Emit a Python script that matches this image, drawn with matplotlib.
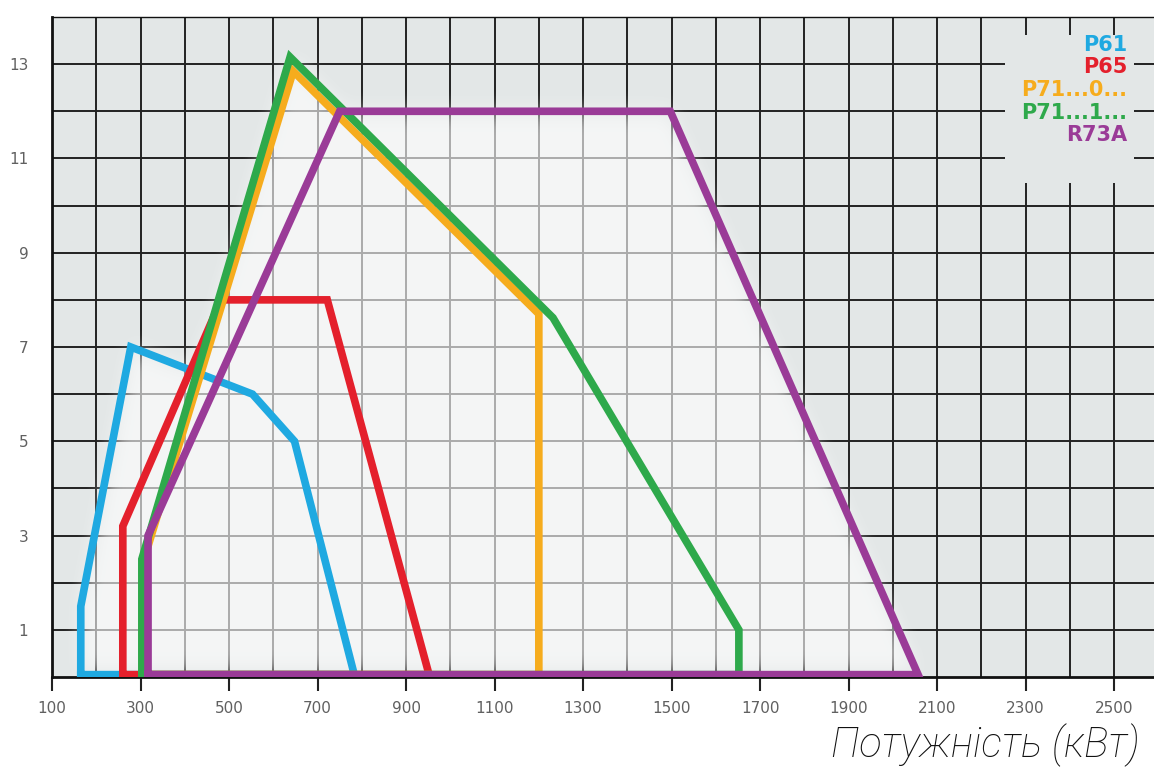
import numpy as np
import matplotlib.pyplot as plt
from matplotlib.path import Path
from matplotlib.patches import Rectangle

# Series outlines (power kW vs. value)
series_names = ['P61', 'P65', 'P71...0...', 'P71...1...', 'R73A']
series_colors = ['#1fa9e1', '#e4202c', '#f6ac1d', '#2ea94b', '#9a3b97']

p61_x = [165, 165, 278, 553, 648, 783, 165]
p61_y = [0.05, 1.5, 7.0, 6.0, 5.0, 0.05, 0.05]

p65_x = [260, 260, 482, 722, 952, 260]
p65_y = [0.05, 3.2, 8.0, 8.0, 0.05, 0.05]

p71_0_x = [308, 308, 645, 1200, 1200, 308]
p71_0_y = [0.05, 2.5, 12.85, 7.7, 0.05, 0.05]

p71_1_x = [303, 303, 638, 1232, 1652, 1652, 303]
p71_1_y = [0.05, 2.5, 13.15, 7.62, 1.0, 0.05, 0.05]

r73a_x = [317, 317, 750, 1497, 2057, 317]
r73a_y = [0.05, 3.0, 12.0, 12.0, 0.05, 0.05]

series_x = [p61_x, p65_x, p71_0_x, p71_1_x, r73a_x]
series_y = [p61_y, p65_y, p71_0_y, p71_1_y, r73a_y]

x_major = list(range(100, 2600, 200))
x_minor = list(range(200, 2600, 200))
y_major = [1, 3, 5, 7, 9, 11, 13]
y_minor = [2, 4, 6, 8, 10, 12, 14]

xlabel = 'Потужність (кВт)'

XMIN, XMAX, YMIN, YMAX = 100, 2590, 0, 14
BG = '#e3e7e7'

fig = plt.figure(figsize=(11.54, 7.74), dpi=100)
ax = fig.add_axes([52 / 1154, 97 / 774, 1102 / 1154, 660 / 774])
ax.set_facecolor(BG)
ax.set_xlim(XMIN, XMAX)
ax.set_ylim(YMIN, YMAX)

ax.set_xticks(x_major)
ax.set_xticks(x_minor, minor=True)
ax.set_yticks(y_major)
ax.set_yticks(y_minor, minor=True)
ax.set_axisbelow(True)
ax.grid(which='both', color='#222222', linewidth=1.4)

ax.tick_params(axis='x', which='major', length=10, width=1.5, color='#222222',
               direction='out', pad=7, labelsize=11, labelcolor='#606060')
ax.tick_params(axis='x', which='minor', length=0)
ax.tick_params(axis='y', which='both', length=0, pad=17, labelsize=11,
               labelcolor='#606060')

ax.spines['right'].set_visible(False)
ax.spines['top'].set_linewidth(1.0)
ax.spines['left'].set_linewidth(2.0)
ax.spines['bottom'].set_linewidth(2.0)
for s in ['top', 'left', 'bottom']:
    ax.spines[s].set_color('#111111')

# white glow over the region covered by the outlines
nx, ny = 600, 300
gx = np.linspace(XMIN, XMAX, nx)
gy = np.linspace(YMIN, YMAX, ny)
GX, GY = np.meshgrid(gx, gy)
pts = np.column_stack([GX.ravel(), GY.ravel()])
mask = np.zeros(GX.size, dtype=float)
for xs, ys in zip(series_x, series_y):
    inside = Path(np.column_stack([xs, ys])).contains_points(pts)
    mask = np.maximum(mask, inside.astype(float))
mask = mask.reshape(ny, nx)
k = np.ones(11) / 11
for _ in range(2):
    mask = np.apply_along_axis(lambda r: np.convolve(r, k, mode='same'), 1, mask)
    mask = np.apply_along_axis(lambda c: np.convolve(c, k, mode='same'), 0, mask)
glow = np.ones((ny, nx, 4))
glow[..., 3] = 0.62 * mask
ax.imshow(glow, extent=(XMIN, XMAX, YMIN, YMAX), origin='lower',
          aspect='auto', zorder=1, interpolation='bilinear')

for xs, ys, c in zip(series_x, series_y, series_colors):
    ax.plot(xs, ys, color=c, linewidth=5.5, solid_joinstyle='miter', zorder=3)

# legend block
ax.add_patch(Rectangle((0.865, 0.748), 0.117, 0.225, transform=ax.transAxes,
                       facecolor=BG, edgecolor='none', zorder=2))
for i, (name, c) in enumerate(zip(series_names, series_colors)):
    ax.text(0.976, 0.958 - i * 0.0343, name, transform=ax.transAxes,
            ha='right', va='center', color=c, fontsize=15, fontweight='bold',
            zorder=5)

ax.set_xlabel(xlabel, fontsize=30, fontstyle='italic', fontweight='light',
              family=['Roboto', 'DejaVu Sans'], color='#111111', loc='right')
ax.xaxis.set_label_coords(0.987, -0.103)
ax.xaxis.label.set_va('center')

fig.savefig('out.png', dpi=100)
